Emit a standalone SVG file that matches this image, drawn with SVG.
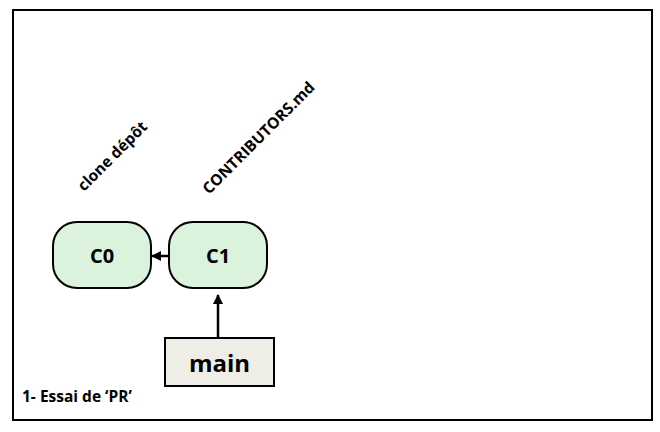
<svg xmlns="http://www.w3.org/2000/svg" width="660" height="432" viewBox="0 0 660 432">
<style>
.t{font-family:"Open Sans","Noto Sans",sans-serif;font-weight:bold;fill:#000}
.commit{fill:#dbf2dd;stroke:#000;stroke-width:2}
.branch{fill:#eeeee6;stroke:#000;stroke-width:2}
.edge{stroke:#000;stroke-width:2.5;fill:none}
</style>
<defs>
<marker id="ah" viewBox="0 0 10 10" refX="9" refY="5" markerWidth="4" markerHeight="4" orient="auto">
<path d="M0,0 L10,5 L0,10 z" fill="#000"/>
</marker>
</defs>
<rect x="0" y="0" width="660" height="432" fill="#fff"/>
<rect x="13" y="10" width="639" height="410" fill="#fff" stroke="#000" stroke-width="2"/>
<g id="connectors">
<line class="edge" x1="169" y1="256" x2="152" y2="256" marker-end="url(#ah)"/>
<line class="edge" x1="218" y1="338" x2="218" y2="295" marker-end="url(#ah)"/>
</g>
<g id="C0">
<rect class="commit" x="53" y="222" width="98" height="66" rx="24"/>
<text class="t" x="102" y="263" font-size="20" text-anchor="middle">C0</text>
</g>
<g id="C1">
<rect class="commit" x="169" y="222" width="98" height="66" rx="24"/>
<text class="t" x="218" y="263" font-size="20" text-anchor="middle">C1</text>
</g>
<g id="main">
<rect class="branch" x="165" y="338" width="109" height="48"/>
<text class="t" x="219.5" y="372" font-size="24" text-anchor="middle">main</text>
</g>
<g id="labels">
<text class="t" font-size="15.5" transform="translate(84,192) rotate(-45)">clone dépôt</text>
<text class="t" font-size="15.5" transform="translate(209,195) rotate(-45)">CONTRIBUTORS.md</text>
<text class="t" font-size="15.5" x="22" y="402">1- Essai de ‘PR’</text>
</g>
</svg>
